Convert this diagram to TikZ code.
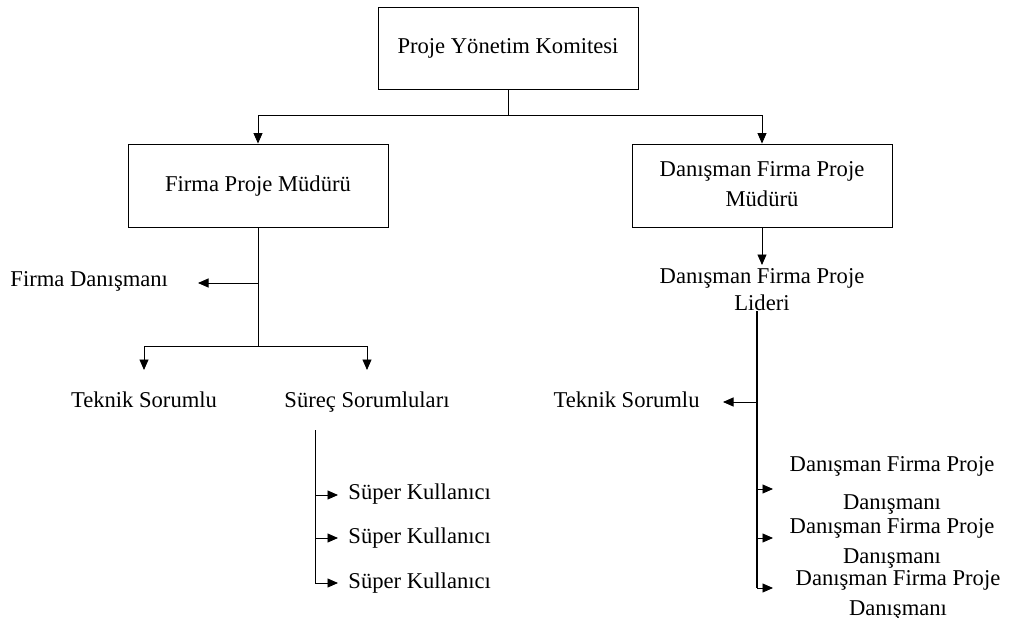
\documentclass[tikz,border=0pt]{standalone}
\usepackage{fontspec}
\setmainfont{Liberation Serif}
\usetikzlibrary{arrows.meta}
\begin{document}
\begin{tikzpicture}[x=1pt,y=-1pt,
  line width=0.9pt,
  lbl/.style={font=\fontsize{22.6}{30}\selectfont, inner sep=0pt, align=center},
  box/.style={lbl, draw, minimum width=260pt, minimum height=83pt},
  arr/.style={-{Triangle[length=10.5pt,width=9pt]}},
  spine/.style={line width=1.6pt}]
\useasboundingbox (0,0) rectangle (1009,618);

% boxes
\node[box, minimum height=82pt] (pyk) at (508,48) {\strut Proje Yönetim Komitesi\strut};
\node[box] (fpm) at (258,185.5) {\strut Firma Proje Müdürü\strut};
\node[box] (dfpm) at (762,185.5) {\strut Danışman Firma Proje\\\strut Müdürü};

% plain labels
\node[lbl, anchor=west] (fd) at (10,280) {\strut Firma Danışmanı\strut};
\node[lbl] (ts1) at (144,401) {\strut Teknik Sorumlu\strut};
\node[lbl] (sr) at (367,401) {\strut Süreç Sorumluları\strut};
\node[lbl, anchor=west] (sk1) at (348,493) {\strut Süper Kullanıcı\strut};
\node[lbl, anchor=west] (sk2) at (348,537) {\strut Süper Kullanıcı\strut};
\node[lbl, anchor=west] (sk3) at (348,582) {\strut Süper Kullanıcı\strut};
\node[lbl] (lid) at (762,291) {\strut Danışman Firma Proje\\[-3pt]\strut Lideri};
\node[lbl, anchor=east] (ts2) at (700,401) {\strut Teknik Sorumlu\strut};
\node[lbl] (dd1) at (892,484) {\strut Danışman Firma Proje\\[8pt]\strut Danışmanı};
\node[lbl] (dd2) at (892,542) {\strut Danışman Firma Proje\\\strut Danışmanı};
\node[lbl] (dd3) at (898,594) {\strut Danışman Firma Proje\\\strut Danışmanı};

% junctions and arrow tips
\coordinate (j0) at (508,115);
\coordinate (j1) at (258,346);
\coordinate (fdtip) at (198,283);
\coordinate (ts1tip) at (144,370);
\coordinate (srtip) at (367,370);
\coordinate (s0) at (315,430);
\coordinate (sk1tip) at (338,495);
\coordinate (sk2tip) at (338,538);
\coordinate (sk3tip) at (338,583);
\coordinate (lidtip) at (762,265);
\coordinate (l0) at (757,311);
\coordinate (ts2tip) at (723,402);
\coordinate (dd1tip) at (773,489);
\coordinate (dd2tip) at (773,538);
\coordinate (dd3tip) at (773,588);

% committee to managers
\draw (pyk.south) -- (j0);
\draw[arr] (j0) -| (fpm.north);
\draw[arr] (j0) -| (dfpm.north);

% company project manager branch
\draw (fpm.south) -- (j1);
\draw[arr] (fpm.south |- fdtip) -- (fdtip);
\draw[arr] (j1) -| (ts1tip);
\draw[arr] (j1) -| (srtip);

% process owners to super users
\draw (s0) -- (s0 |- sk2tip);
\draw[arr] (s0 |- sk1tip) -- (sk1tip);
\draw[arr] (s0 |- sk2tip) -- (sk2tip);
\draw[arr] (s0) |- (sk3tip);

% consultant branch
\draw[arr] (dfpm.south) -- (lidtip);
\draw[spine] (l0) -- (l0 |- dd3tip);
\draw[arr] (l0 |- ts2tip) -- (ts2tip);
\draw[arr] (l0 |- dd1tip) -- (dd1tip);
\draw[arr] (l0 |- dd2tip) -- (dd2tip);
\draw[arr] (l0 |- dd3tip) -- (dd3tip);
\end{tikzpicture}
\end{document}
